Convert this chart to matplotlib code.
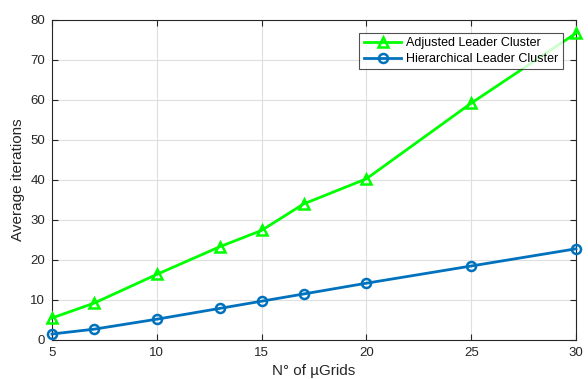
import matplotlib
matplotlib.use("Agg")
import matplotlib.pyplot as plt

plt.rcParams['font.family'] = ['Liberation Sans', 'DejaVu Sans']

x = [5, 7, 10, 13, 15, 17, 20, 25, 30]
adjusted = [5.5, 9.2, 16.4, 23.3, 27.4, 34.0, 40.3, 59.2, 76.7]
hierarchical = [1.5, 2.7, 5.2, 7.9, 9.7, 11.5, 14.2, 18.5, 22.8]
xticks = [5, 10, 15, 20, 25, 30]
yticks = [0, 10, 20, 30, 40, 50, 60, 70, 80]

fig = plt.figure(figsize=(5.88, 3.79), dpi=100)
ax = fig.add_axes([52/588, 1-340/379, 524/588, 320/379])

ax.plot(x, adjusted, color='#00FF00', lw=2, marker='^', ms=7.5, mfc='none',
        mew=1.8, label='Adjusted Leader Cluster', clip_on=False, zorder=3)
ax.plot(x, hierarchical, color='#0072BD', lw=2, marker='o', ms=6.5, mfc='none',
        mew=1.8, label='Hierarchical Leader Cluster', clip_on=False, zorder=3)

ax.set_xlim(5, 30)
ax.set_ylim(0, 80)
ax.set_xticks(xticks)
ax.set_yticks(yticks)
ax.grid(True, color='#DFDFDF', lw=0.8)
ax.set_axisbelow(True)
ax.tick_params(direction='in', top=True, right=True, labelsize=9.5,
               colors='#262626', length=4, pad=5)
for s in ax.spines.values():
    s.set_color('#262626')
    s.set_linewidth(0.8)
ax.set_xlabel('N° of µGrids', fontsize=11, color='#262626', labelpad=4)
ax.set_ylabel('Average iterations', fontsize=11, color='#262626', labelpad=4)

leg = ax.legend(loc='upper right', bbox_to_anchor=(0.975, 0.96), fontsize=9,
                frameon=True, fancybox=False, edgecolor='#262626',
                borderpad=0.35, handlelength=3.0, labelspacing=0.3,
                handletextpad=0.4, borderaxespad=0)
leg.get_frame().set_linewidth(0.8)

fig.savefig('out.png', dpi=100)
